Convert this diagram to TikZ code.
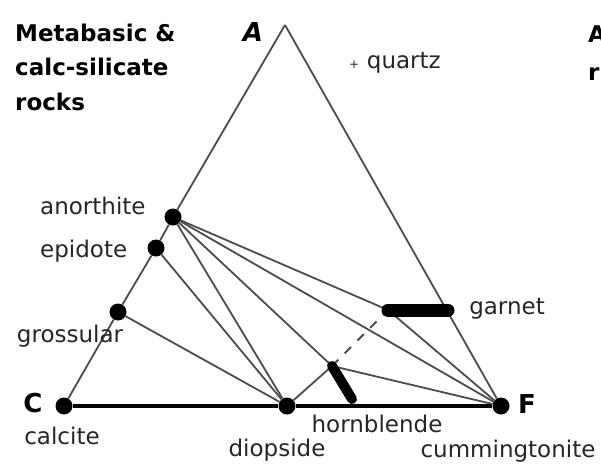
\documentclass[tikz,border=0pt]{standalone}
\usepackage{fontspec}
\setmainfont{DejaVu Sans}
\usetikzlibrary{positioning}

\tikzset{
  phase/.style={circle, fill=black, inner sep=0pt, minimum size=17pt},
  tie/.style={draw=black!70, line width=1.8pt},
  lbl/.style={font=\fontsize{23}{26}\selectfont, text=black!85, inner sep=0pt, anchor=base},
  ttl/.style={font=\fontsize{23}{26}\selectfont\bfseries, inner sep=0pt, anchor=base west},
  corner/.style={font=\fontsize{26}{28}\selectfont\bfseries, inner sep=0pt, anchor=base},
}

\begin{document}
\begin{tikzpicture}[x=1pt, y=-1pt]
  \useasboundingbox (0,0) rectangle (601,467);

  % corners and phases
  \coordinate (A) at (285,25);
  \node[phase] (C)  at (64,406)  {};
  \node[phase] (F)  at (501,406) {};
  \node[phase] (an) at (173,217) {};
  \node[phase] (ep) at (156,248) {};
  \node[phase] (gr) at (118,312) {};
  \node[phase] (di) at (287,406) {};

  % ends of the solid-solution bars
  \coordinate (grt1) at (388,310);
  \coordinate (grt2) at (448,310);
  \coordinate (hbl1) at (332,366);
  \coordinate (hbl2) at (352,399);

  % triangle sides
  \draw[tie] (A) -- (an) -- (ep) -- (gr) -- (C);
  \draw[tie] (A) -- (F);
  \draw[line width=3.5pt] (C) -- (di) -- (F);

  % tie lines
  \draw[tie] (an) -- (grt1);
  \draw[tie] (an) -- (F);
  \draw[tie] (an) -- (hbl1);
  \draw[tie] (an) -- (di);
  \draw[tie] (ep) -- (di);
  \draw[tie] (gr) -- (di);
  \draw[tie] (di) -- (hbl1);
  \draw[tie, dash pattern=on 9pt off 9pt] (hbl1) -- (grt1);
  \draw[tie] (grt1) -- (F);
  \draw[tie] (hbl1) -- (F);

  % solid-solution bars
  \draw[line width=13pt, line cap=round] (grt1) -- (grt2);
  \draw[line width=10pt, line cap=round] (hbl1) -- (hbl2);

  % title
  \node[ttl] (ttl1) at (15,41)  {Metabasic \&};
  \node[ttl] (ttl2) at (15,75)  {calc-silicate};
  \node[ttl] (ttl3) at (15,110) {rocks};
  \node[ttl] (nxt1) at (588,42) {A};
  \node[ttl] (nxt2) at (588,80) {r};

  % corner labels
  \node[corner, font=\fontsize{26}{28}\selectfont\bfseries\itshape] (Alab) at (253,41) {A};
  \node[corner] (Clab) at (33,412) {C};
  \node[corner] (Flab) at (527,413) {F};

  % phase labels
  \node[lbl, anchor=base west] (anlab) at (40,214) {anorthite};
  \node[lbl, anchor=base west] (eplab) at (40,257) {epidote};
  \node[lbl] (grlab)  at (70,342)  {grossular};
  \node[lbl] (calab)  at (62,444)  {calcite};
  \node[lbl] (dilab)  at (277,456) {diopside};
  \node[lbl] (hblab)  at (377,432) {hornblende};
  \node[lbl] (cumlab) at (508,457) {cummingtonite};
  \node[lbl] (grtlab) at (507,314) {garnet};
  \node[lbl] (qzlab)  at (395,68)  {{\fontsize{12}{12}\selectfont+}\,\,quartz};
\end{tikzpicture}
\end{document}
